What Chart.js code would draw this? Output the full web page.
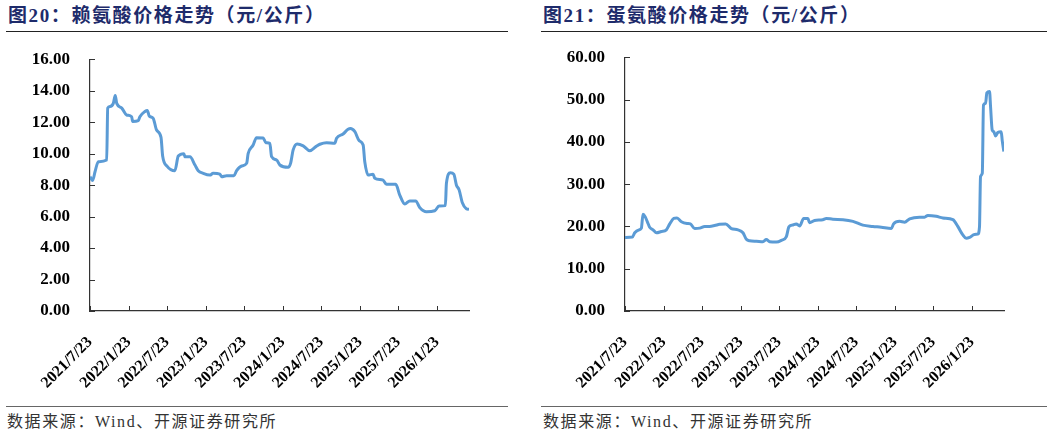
<!DOCTYPE html>
<html>
<head>
<meta charset="utf-8">
<script src="https://cdn.jsdelivr.net/npm/chart.js@4.4.1/dist/chart.umd.min.js"></script>
<style>
  body { margin: 0; background: #fff; width: 1057px; height: 436px; position: relative; overflow: hidden; }
  .title { position: absolute; top: 5px; font: bold 19px 'Liberation Serif', 'Noto Sans CJK SC'; color: #1E2B6B; letter-spacing: 1.6px; line-height: 22px; white-space: nowrap; }
  .rule { position: absolute; height: 1px; background: #222; }
  .src { position: absolute; top: 412px; font: 16px 'Liberation Serif', 'Noto Sans CJK SC'; color: #333; letter-spacing: 1.6px; line-height: 20px; white-space: nowrap; }
  canvas { position: absolute; }
</style>
</head>
<body>
<div class="title" style="left:8px">图20：赖氨酸价格走势（元/公斤）</div>
<div class="title" style="left:543px">图21：蛋氨酸价格走势（元/公斤）</div>
<div class="rule" style="left:6px;width:502px;top:31px"></div>
<div class="rule" style="left:541px;width:506px;top:31px"></div>
<div class="rule" style="left:6px;width:502px;top:406px;background:#666"></div>
<div class="rule" style="left:541px;width:506px;top:406px;background:#666"></div>
<div class="src" style="left:7px">数据来源：Wind、开源证券研究所</div>
<div class="src" style="left:543px">数据来源：Wind、开源证券研究所</div>
<canvas id="lys" width="520" height="370" style="left:0;top:30px"></canvas>
<canvas id="met" width="527" height="370" style="left:530px;top:30px"></canvas>
<script>
// x axis tick labels (half-year steps)
var tickLabels = ['2021/7/23', '2022/1/23', '2022/7/23', '2023/1/23', '2023/7/23',
  '2024/1/23', '2024/7/23', '2025/1/23', '2025/7/23', '2026/1/23'];
var xMaxWeek = 256.7;

// 赖氨酸: weeks since 2021/7/23, price
var lysWeek = [0, 1.8, 3.4, 5.6, 11.3, 12.0, 13.5, 15.8, 17.1, 18.1, 21.5, 24.8, 28.2, 28.9, 32.7,
  33.8, 37.2, 38.8, 40.1, 42.8, 45.1, 48.1, 49.2, 52.3, 57.5, 59.8, 63.6, 64.3, 67.7, 71.1,
  73.3, 76.7, 81.2, 83.4, 88.0, 89.1, 92.5, 97.5, 99.3, 102.7, 106.1, 107.1, 110.5, 112.8,
  117.3, 119.1, 121.8, 123.0, 126.4, 128.6, 134.2, 135.9, 137.6, 140.3, 144.4, 148.9, 153.0,
  155.7, 160.2, 165.8, 167.0, 171.4, 174.8, 176.4, 179.4, 182.3, 185.0, 186.1, 188.4, 191.7,
  192.9, 198.5, 200.8, 207.1, 209.8, 213.2, 216.6, 220.6, 223.3, 227.9, 233.5, 236.4, 240.7,
  241.4, 244.1, 246.4, 248.2, 250.0, 252.2, 254.9, 256.7];
var lysPrice = [8.54, 8.3, 8.85, 9.49, 9.6, 12.9, 13.0, 13.2, 13.7, 13.2, 12.9, 12.46, 12.35, 12.04, 12.1,
  12.35, 12.68, 12.75, 12.4, 12.25, 11.5, 11.04, 9.85, 9.2, 8.92, 9.85, 10.0, 9.8, 9.8, 9.28,
  8.92, 8.75, 8.64, 8.75, 8.7, 8.54, 8.6, 8.6, 8.92, 9.22, 9.39, 10.0, 10.55, 11.02,
  11.0, 10.7, 10.66, 9.81, 9.6, 9.28, 9.13, 9.4, 10.24, 10.62, 10.5, 10.19, 10.45,
  10.6, 10.7, 10.66, 10.98, 11.25, 11.55, 11.6, 11.4, 10.83, 10.55, 9.49, 8.64, 8.7,
  8.44, 8.32, 8.05, 8.05, 7.37, 6.8, 7.0, 7.0, 6.58, 6.31, 6.37, 6.67, 6.7,
  8.11, 8.79, 8.7, 8.0, 7.7, 6.88, 6.5, 6.46];

// 蛋氨酸: weeks since 2021/7/23, price
var metWeek = [0, 5.0, 6.6, 9.5, 11.1, 12.2, 13.8, 15.6, 16.7, 19.0, 21.3, 24.6, 28.0, 30.3, 33.0,
  35.2, 38.2, 42.0, 44.3, 47.2, 50.6, 54.0, 57.3, 60.7, 64.1, 68.2, 72.0, 76.5, 79.9, 82.2,
  84.4, 89.0, 93.4, 95.7, 98.0, 102.5, 105.9, 109.3, 111.0, 113.3, 116.0, 118.3, 121.0, 123.9,
  125.0, 128.4, 134.0, 136.3, 140.8, 147.6, 154.4, 161.1, 167.9, 173.6, 180.4, 181.9, 186.0,
  189.4, 192.8, 199.5, 202.9, 205.1, 210.8, 215.3, 222.1, 225.4, 228.8, 231.1, 233.4, 236.7,
  239.0, 240.1, 240.8, 242.0, 242.8, 244.2, 245.1, 246.9, 247.6, 248.7, 249.8, 251.0, 252.5,
  254.8, 255.5, 256.6];
var metPrice = [17.4, 17.5, 18.5, 19.2, 19.6, 22.9, 22.2, 20.7, 19.8, 19.2, 18.5, 18.8, 19.2, 20.6, 21.9,
  22.0, 21.1, 20.7, 20.6, 19.5, 19.6, 20.0, 20.0, 20.2, 20.5, 20.6, 19.5, 19.2, 18.5, 16.95,
  16.6, 16.5, 16.4, 16.9, 16.4, 16.3, 16.7, 17.6, 19.9, 20.3, 20.6, 20.1, 21.9, 21.9,
  20.9, 21.4, 21.6, 21.9, 21.7, 21.6, 21.2, 20.3, 20.0, 19.8, 19.5, 20.6, 21.2,
  21.0, 21.8, 22.2, 22.2, 22.6, 22.4, 22.0, 21.6, 20.0, 18.0, 17.2, 17.4, 18.1,
  18.2, 19.9, 31.8, 32.6, 48.7, 49.1, 51.6, 51.9, 48.3, 42.8, 42.4, 41.4, 42.2,
  42.4, 40.3, 37.7];

var axisColor = '#333';
var lineColor = '#5B9BD5';

var start = Date.UTC(2021, 6, 23);
var tickWeeks = tickLabels.map(function (s) {
  var p = s.split('/');
  return (Date.UTC(+p[0], +p[1] - 1, +p[2]) - start) / (7 * 864e5);
});

// Excel style inward tick marks
var innerTicks = {
  id: 'innerTicks',
  afterDraw: function (chart) {
    var ctx = chart.ctx, xs = chart.scales.x, ys = chart.scales.y, a = chart.chartArea;
    ctx.save();
    ctx.strokeStyle = axisColor;
    ctx.lineWidth = 1;
    ctx.beginPath();
    xs.ticks.forEach(function (t) {
      var px = Math.round(xs.getPixelForValue(t.value)) + 0.5;
      ctx.moveTo(px, a.bottom);
      ctx.lineTo(px, a.bottom - 5);
    });
    ys.ticks.forEach(function (t) {
      var py = Math.round(ys.getPixelForValue(t.value)) + 0.5;
      ctx.moveTo(a.left, py);
      ctx.lineTo(a.left + 5, py);
    });
    ctx.stroke();
    ctx.restore();
  }
};

function makeChart(id, weeks, prices, yMax, yStep, yWidth, padRight, areaTop) {
  var pts = weeks.map(function (w, i) { return { x: w, y: prices[i] }; });
  var chart = new Chart(document.getElementById(id), {
    type: 'line',
    data: {
      datasets: [{
        data: pts,
        borderColor: lineColor,
        borderWidth: 3,
        pointRadius: 0,
        cubicInterpolationMode: 'monotone'
      }]
    },
    options: {
      responsive: false,
      animation: false,
      layout: { padding: { left: 0, top: areaTop, right: padRight, bottom: 0 } },
      plugins: { legend: { display: false }, tooltip: { enabled: false } },
      scales: {
        x: {
          type: 'linear',
          min: 0,
          max: xMaxWeek,
          afterBuildTicks: function (axis) {
            axis.ticks = tickWeeks.map(function (v) { return { value: v }; });
          },
          afterFit: function (scale) { scale.height = 89; },
          grid: { display: false },
          border: { display: true, color: axisColor, width: 1.2 },
          ticks: {
            autoSkip: false,
            minRotation: 45,
            maxRotation: 45,
            padding: 14,
            color: '#000',
            font: { family: 'Liberation Serif', size: 16, weight: 'bold' },
            callback: function (v, i) { return tickLabels[i]; }
          }
        },
        y: {
          min: 0,
          max: yMax,
          afterFit: function (scale) { scale.width = yWidth; },
          grid: { display: false },
          border: { display: true, color: axisColor, width: 1.2 },
          ticks: {
            stepSize: yStep,
            padding: 12,
            color: '#000',
            font: { family: 'Liberation Serif', size: 17, weight: 'bold' },
            callback: function (v) { return v.toFixed(2); }
          }
        }
      }
    },
    plugins: [innerTicks]
  });
  // nudge the top padding so the plot area starts where the reference does
  var diff = areaTop - chart.chartArea.top;
  if (Math.abs(diff) > 0.2) {
    chart.options.layout.padding.top = areaTop + diff;
    chart.update();
  }
  return chart;
}

makeChart('lys', lysWeek, lysPrice, 16, 2, 90, 51, 29.3);
makeChart('met', metWeek, metPrice, 60, 10, 95, 53, 27.3);
</script>
</body>
</html>
